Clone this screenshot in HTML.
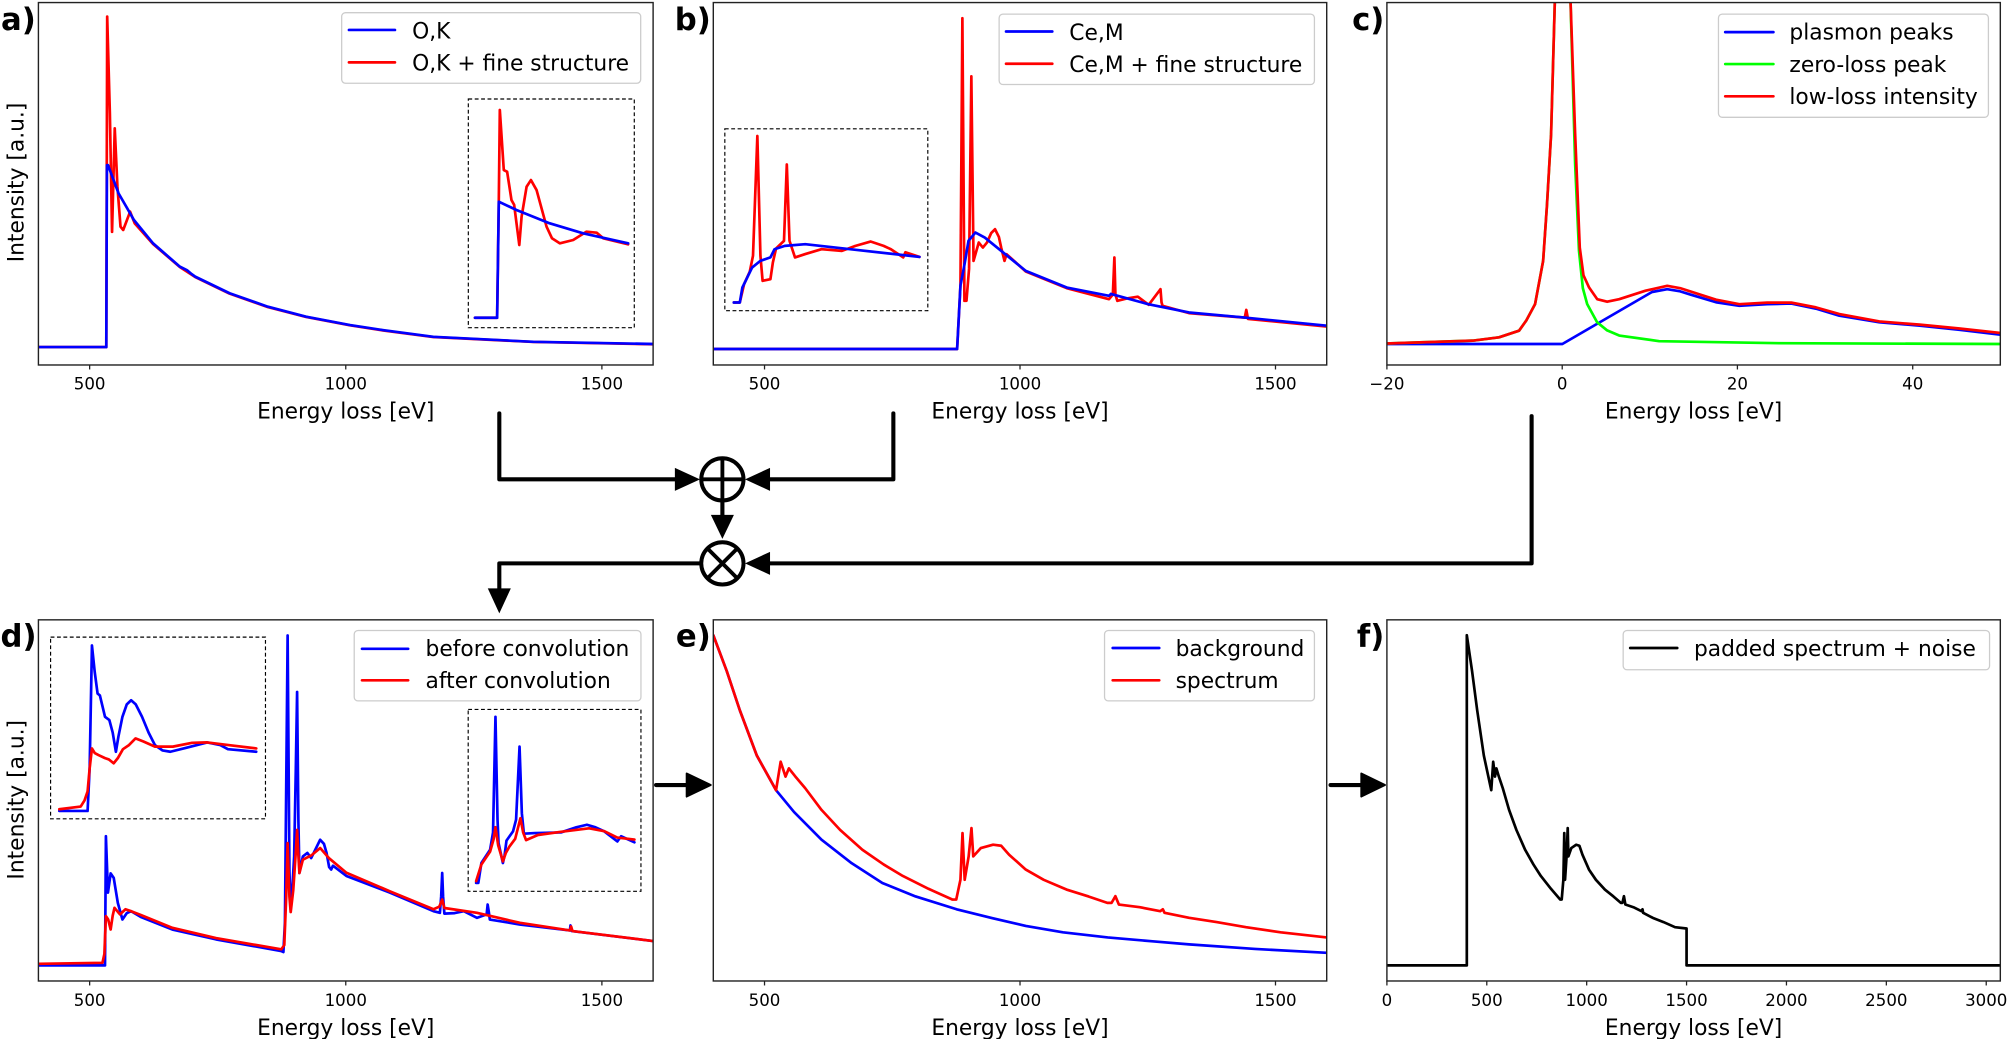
<!DOCTYPE html>
<html><head><meta charset="utf-8"><style>
html,body{margin:0;padding:0;background:#fff;}
svg{display:block;}
text{font-family:"DejaVu Sans","Liberation Sans",sans-serif;fill:#000;}
.tk{font-size:13px;text-anchor:middle;}
.xl{font-size:17px;text-anchor:middle;}
.lg{font-size:17px;}
.pl{font-size:24px;font-weight:bold;text-anchor:end;}
.ax{fill:none;stroke:#222;stroke-width:1.1;}
.c{fill:none;stroke-width:2.1;stroke-linejoin:round;stroke-linecap:round;}
.b{stroke:#0000ff;}.r{stroke:#ff0000;}.g{stroke:#00ff00;}.k{stroke:#000;}
.lgb{fill:#fff;fill-opacity:0.8;stroke:#ccc;stroke-width:1;}
.ins{fill:none;stroke:#000;stroke-width:0.9;stroke-dasharray:3,2;}
.fl{fill:none;stroke:#000;stroke-width:3.2;stroke-linecap:round;stroke-linejoin:round;}
.tick{stroke:#222;stroke-width:1;}
</style></head><body>
<svg width="2008" height="1039" viewBox="0 0 1568 811.3" preserveAspectRatio="none" xmlns="http://www.w3.org/2000/svg">
<defs>
<clipPath id="ca"><rect x="30" y="2" width="480" height="283"/></clipPath>
<clipPath id="cb"><rect x="557" y="2" width="479" height="283"/></clipPath>
<clipPath id="cc"><rect x="1083" y="2" width="479" height="283"/></clipPath>
<clipPath id="cd"><rect x="30" y="484" width="480" height="282"/></clipPath>
<clipPath id="ce"><rect x="557" y="484" width="479" height="282"/></clipPath>
<clipPath id="cf"><rect x="1083" y="484" width="479" height="282"/></clipPath>
</defs>
<rect width="1568" height="811.3" fill="#fff"/>

<!-- ===== Panel a ===== -->
<g clip-path="url(#ca)">
<polyline class="c r" points="30,271 83,271 83.4,120 83.7,13 85.8,88.5 87.5,181 89.6,100.2 91.7,145.8 94.1,177 96.2,179.6 101.6,165.3 105.2,174.4 119.5,190.5 140.4,208.5 152.4,216.3 179.3,229.3 209.2,239.8 239,247.5 273.3,254 298.8,258 338.4,263.2 416.5,267 510,268.8"/>
<polyline class="c b" points="30,271 83,271 83.5,129 84.3,128.9 92.6,151 104.6,171.8 119.5,190 140.4,208.2 146,211 149,213.5 152.4,216 179.3,229 209.2,239.5 239,247.3 273.3,253.8 298.8,257.7 338.4,263 416.5,266.9 510,268.6"/>
</g>
<rect class="ins" x="365.7" y="77.3" width="129.6" height="178.6"/>
<polyline class="c r" points="370.9,248.1 388.2,248.1 389.5,157 390.3,85.9 393.4,132.8 396,134.1 399.4,156.2 401.5,160 405.5,191.3 407.3,169.2 411.2,145.8 414.6,140.6 419,148.4 426.8,177 431,186 437.2,190 447.6,187.4 458,180.9 465.9,181.7 471.1,186.1 490.5,190.8"/>
<polyline class="c b" points="370.9,248.1 388.2,248.1 389.5,157.5 403.3,164 429.3,174.4 455.3,182.2 490.5,190"/>
<rect class="ax" x="30" y="2" width="480" height="283"/>
<rect class="lgb" x="266.8" y="9.9" width="233.5" height="55.1" rx="3"/>
<line class="c b" x1="272.5" y1="23.4" x2="308.4" y2="23.4"/>
<line class="c r" x1="272.5" y1="48.7" x2="308.4" y2="48.7"/>
<text class="lg" x="321.8" y="29.9">O,K</text>
<text class="lg" x="321.8" y="55.2">O,K + fine structure</text>
<g class="tick"><line x1="70" y1="285" x2="70" y2="288.5"/><line x1="270" y1="285" x2="270" y2="288.5"/><line x1="470" y1="285" x2="470" y2="288.5"/></g>
<text class="tk" x="70" y="304">500</text><text class="tk" x="270" y="304">1000</text><text class="tk" x="470" y="304">1500</text>
<text class="xl" x="270" y="326.7">Energy loss [eV]</text>
<text class="xl" transform="translate(18.5,142.5) rotate(-90)">Intensity [a.u.]</text>
<text class="pl" x="28" y="23.5">a)</text>

<!-- ===== Panel b ===== -->
<g clip-path="url(#cb)">
<polyline class="c r" points="557,272.5 747.4,272.5 750,222.9 751.5,14.2 753.1,234.9 754.7,234.9 756.7,210 758.5,59.6 760.2,203.7 764.3,189.4 767.5,193.3 770.7,189.4 774,182 777,179 780,185 781.8,193.3 784.4,203.7 786,198.5 801,212 833,225 866,233.6 869,230 870.2,201 871,230 872.5,234.9 880,233 888.5,231.7 897,238 906.2,225.8 907,236 907.8,238.8 928.5,244.5 972,248 973.2,242 974.5,249 1036,255"/>
<polyline class="c b" points="557,272.5 747.4,272.5 750,222.9 753,207.3 756.3,188 761.7,181.6 769,185.5 785,198.5 801,211.5 833,224.5 866,231 867.5,229.5 896.6,237.5 928.5,244 970,247.8 1036,254.3"/>
</g>
<rect class="ins" x="566" y="100.6" width="158.5" height="142"/>
<polyline class="c r" points="573,236.2 577.7,236.2 581,222 585.5,212 588,199.7 591.4,106.2 593.8,199.7 595.5,219.3 601.6,218 603.5,205 606,194 612.2,188.1 614.4,128.4 616.5,188 620.8,201 628.8,198.4 641.5,194.6 657.4,195.9 668,192 679.8,188.6 690,192 695.7,194.6 705.3,201 707,197 718,200.6"/>
<polyline class="c b" points="573,236.2 577.7,236.2 579.7,224.5 587.3,208.9 593.7,203.7 601.6,201 604.8,194.6 612.8,192 628.8,190.7 663.8,194.6 718,200.6"/>
<rect class="ax" x="557" y="2" width="479" height="283"/>
<rect class="lgb" x="780.2" y="11" width="246.2" height="55" rx="3"/>
<line class="c b" x1="785.6" y1="24.6" x2="821.7" y2="24.6"/>
<line class="c r" x1="785.6" y1="49.8" x2="821.7" y2="49.8"/>
<text class="lg" x="835" y="31.1">Ce,M</text>
<text class="lg" x="835" y="56.3">Ce,M + fine structure</text>
<g class="tick"><line x1="597" y1="285" x2="597" y2="288.5"/><line x1="796.5" y1="285" x2="796.5" y2="288.5"/><line x1="996" y1="285" x2="996" y2="288.5"/></g>
<text class="tk" x="597" y="304">500</text><text class="tk" x="796.5" y="304">1000</text><text class="tk" x="996" y="304">1500</text>
<text class="xl" x="796.5" y="326.7">Energy loss [eV]</text>
<text class="pl" x="555" y="23.5">b)</text>

<!-- ===== Panel c ===== -->
<g clip-path="url(#cc)">
<polyline class="c b" points="1083,268.6 1220,268.6 1290,228 1301.9,225.8 1312,227.5 1320,230 1340,236 1358.2,238.8 1380,237.5 1398.8,237 1418,241 1436.3,246.5 1467.6,251.7 1499,254.3 1530,257.5 1562,261.3"/>
<polyline class="c g" points="1083,268.2 1150,266 1170.6,263.4 1186.2,258.2 1192,250 1198.7,237.5 1205,203.7 1208,160 1211.2,105 1214.3,-5 1226.2,-5 1230,128.4 1233,195.9 1236,225 1239.4,237.5 1247.2,251.7 1255,258 1264.4,262 1295.6,266.4 1389.5,268 1562,268.6"/>
<polyline class="c r" points="1083,268.2 1150,266 1170.6,263.4 1186.2,258.2 1192,250 1198.7,237.5 1205,203.7 1208,160 1211.2,105 1214.3,-5 1226.2,-5 1230,105 1233.6,193.3 1236.5,215 1240.9,224.5 1247.2,233.6 1255,235.6 1264.4,233.6 1285,227 1301.9,223.2 1312,225 1340,234 1358.2,237.5 1380,236.3 1398.8,236.3 1418,240 1436.3,245.2 1467.6,251 1499,253.5 1530,256.5 1562,260"/>
</g>
<rect class="ax" x="1083" y="2" width="479" height="283"/>
<rect class="lgb" x="1341.9" y="11" width="210.8" height="80.6" rx="3"/>
<line class="c b" x1="1347.2" y1="25.1" x2="1384.8" y2="25.1"/>
<line class="c g" x1="1347.2" y1="50" x2="1384.8" y2="50"/>
<line class="c r" x1="1347.2" y1="75.2" x2="1384.8" y2="75.2"/>
<text class="lg" x="1397.3" y="31">plasmon peaks</text>
<text class="lg" x="1397.3" y="56.2">zero-loss peak</text>
<text class="lg" x="1397.3" y="81.2">low-loss intensity</text>
<g class="tick"><line x1="1083" y1="285" x2="1083" y2="288.5"/><line x1="1219.9" y1="285" x2="1219.9" y2="288.5"/><line x1="1356.7" y1="285" x2="1356.7" y2="288.5"/><line x1="1493.6" y1="285" x2="1493.6" y2="288.5"/></g>
<text class="tk" x="1083" y="304">−20</text><text class="tk" x="1219.9" y="304">0</text><text class="tk" x="1356.7" y="304">20</text><text class="tk" x="1493.6" y="304">40</text>
<text class="xl" x="1322.5" y="326.7">Energy loss [eV]</text>
<text class="pl" x="1081" y="23.5">c)</text>

<!-- ===== Panel d ===== -->
<g clip-path="url(#cd)">
<polyline class="c b" points="30,753.8 82,753.8 82.7,653 84.3,697 86.4,682 88.8,685.5 92,705 95.6,718 99,713 102.4,711.5 110,716 134.6,725.8 168.6,733.5 219.6,742.6 221.3,743.4 222.5,720 224.6,496.2 226,680 227,710 228.5,690 229.7,668.7 231,600 232,540.3 233,640 233.8,681.7 236.5,668.7 240,666 243,670 250,655.7 253,659 255,666 257,677 258.6,679 260,676 270.5,684 304.5,697 338.5,711.5 343.5,712.8 344.5,700 345.3,681.7 346,700 347,713.4 355,713 362.2,711.5 372.4,716.7 380,714 380.8,706.3 381.7,712 382.5,718 406,721.9 445,726.5 445.5,722.6 446.5,727 510,734.8"/>
<polyline class="c r" points="30,752.6 80,751.8 81.5,745 82.7,715.4 84.5,718 86.4,725.8 88,715 89.4,708.9 93.7,714 98,710 102.4,711.5 110,714.5 134.6,724.5 168.6,732.5 219.6,741.3 222,738 223.5,700 224.6,658.3 226,700 227,712.2 229,695 231,665 232,648 233,668 233.8,681.7 236.5,671.3 243,668 250,662.2 256.8,670 270.5,681.5 304.5,696 338.5,710 343,708 345.3,702.4 347,709 372.4,712.8 406,720.6 445,726.5 446,723.5 447,727 510,734.8"/>
</g>
<rect class="ins" x="39.5" y="497.5" width="167.8" height="141.9"/>
<polyline class="c b" points="46.3,633.2 68.4,633.2 70,600 71.8,504 74,525 76.2,541.6 78,543 82,559.7 85.4,562.3 88,572 90.5,587 92.5,575 95.6,559.7 99,550 102.4,546.8 106,550 110.9,559.7 116,572 121,581.8 127,586 133,587 145,584 161.8,579.7 172,581.8 178,585 200.1,587"/>
<polyline class="c r" points="46.3,631.9 63,629.8 66,625 68.4,618 70,600 71.8,584.4 74,588 76.9,589.6 82,592 85,593 88.8,596 92,592 96,585 100.7,581.8 105.8,576.6 112,579 121,583 135,583 150,580 161.8,579.7 180,582 200.1,584.4"/>
<rect class="ins" x="365.6" y="554" width="134.9" height="142"/>
<polyline class="c b" points="371.8,689.4 373.5,689.4 375.9,673.9 382.7,663.5 385,650 386.9,559.7 388.5,640 389.3,658.3 392.7,673.9 394,668 395.5,656.4 400.6,649.2 403,640 405.7,583 407.5,635 409.1,651 417.6,650.5 438,650 450,646 458.3,644 465,646 471.9,649.2 482.1,657 485,653 495.4,657.7"/>
<polyline class="c r" points="371.8,688 375.9,675 382.7,665 385.5,655 386.9,645.9 389,660 392.7,672.6 395,666 397.8,661 402.3,655 406.4,638.9 408.5,650 410.8,656 420,652 438,649.5 460,646.8 471.9,649 482,654 495.4,655.6"/>
<rect class="ax" x="30" y="484" width="480" height="282"/>
<rect class="lgb" x="276.6" y="492.3" width="223.9" height="55" rx="3"/>
<line class="c b" x1="282.7" y1="506.6" x2="318.7" y2="506.6"/>
<line class="c r" x1="282.7" y1="531.2" x2="318.7" y2="531.2"/>
<text class="lg" x="332.3" y="512.3">before convolution</text>
<text class="lg" x="332.3" y="537.2">after convolution</text>
<g class="tick"><line x1="70" y1="766" x2="70" y2="769.5"/><line x1="270" y1="766" x2="270" y2="769.5"/><line x1="470" y1="766" x2="470" y2="769.5"/></g>
<text class="tk" x="70" y="785.5">500</text><text class="tk" x="270" y="785.5">1000</text><text class="tk" x="470" y="785.5">1500</text>
<text class="xl" x="270" y="808">Energy loss [eV]</text>
<text class="xl" transform="translate(18.5,624.5) rotate(-90)">Intensity [a.u.]</text>
<text class="pl" x="28.5" y="505">d)</text>

<!-- ===== Panel e ===== -->
<g clip-path="url(#ce)">
<polyline class="c b" points="557,496 567.5,524 577.7,554.6 591,590 606,617 620,634 641.5,655.7 665,674 689,689.5 715,700 747,710 775,717 801,723 830,728 865,732 900,735 928.5,737.4 980,741 1036,744"/>
<polyline id="ered" class="c r" points="557,496 567.5,524 577.7,554.6 591,590 606,617 609.6,594.8 613.4,606.4 616,600 620.8,606 628.8,615.5 641.5,632.4 656,648 673.4,663.5 690,675 705,684 725,694 743.6,702.4 746.7,702.4 750,686.9 751.6,650.5 753.3,687 756.4,668.7 758.6,646.6 760,668.7 765.9,662.2 775.5,659.6 781.8,660.4 788,667.4 801,679 815,687 832.8,694.6 850,700 864.7,705 868,705 871,699.8 873.7,706.3 890,708.4 906,711.5 908,710 909.4,712.8 928.5,716.7 950,720 973,724 1000,728 1036,732"/>
</g>
<rect class="ax" x="557" y="484" width="479" height="282"/>
<rect class="lgb" x="862.5" y="492.3" width="163.9" height="55" rx="3"/>
<line class="c b" x1="868.9" y1="506" x2="905.2" y2="506"/>
<line class="c r" x1="868.9" y1="531.2" x2="905.2" y2="531.2"/>
<text class="lg" x="918" y="512.3">background</text>
<text class="lg" x="918" y="537.2">spectrum</text>
<g class="tick"><line x1="597" y1="766" x2="597" y2="769.5"/><line x1="796.5" y1="766" x2="796.5" y2="769.5"/><line x1="996" y1="766" x2="996" y2="769.5"/></g>
<text class="tk" x="597" y="785.5">500</text><text class="tk" x="796.5" y="785.5">1000</text><text class="tk" x="996" y="785.5">1500</text>
<text class="xl" x="796.5" y="808">Energy loss [eV]</text>
<text class="pl" x="555" y="505">e)</text>

<!-- ===== Panel f ===== -->
<g clip-path="url(#cf)">
<polyline id="fcurve" class="c k" points="1083,753.8 1145.4,753.8 1145.4,496"/>
</g>
<rect class="ax" x="1083" y="484" width="479" height="282"/>
<rect class="lgb" x="1267.5" y="492.3" width="286.1" height="30.7" rx="3"/>
<line class="c k" x1="1273" y1="506" x2="1309.7" y2="506"/>
<text class="lg" x="1322.8" y="512.3">padded spectrum + noise</text>
<g class="tick">
<line x1="1083" y1="766" x2="1083" y2="769.5"/><line x1="1161" y1="766" x2="1161" y2="769.5"/><line x1="1239" y1="766" x2="1239" y2="769.5"/><line x1="1317" y1="766" x2="1317" y2="769.5"/><line x1="1395" y1="766" x2="1395" y2="769.5"/><line x1="1473" y1="766" x2="1473" y2="769.5"/><line x1="1551" y1="766" x2="1551" y2="769.5"/></g>
<text class="tk" x="1083" y="785.5">0</text><text class="tk" x="1161" y="785.5">500</text><text class="tk" x="1239" y="785.5">1000</text><text class="tk" x="1317" y="785.5">1500</text><text class="tk" x="1395" y="785.5">2000</text><text class="tk" x="1473" y="785.5">2500</text><text class="tk" x="1551" y="785.5">3000</text>
<text class="xl" x="1322.5" y="808">Energy loss [eV]</text>
<text class="pl" x="1081" y="505">f)</text>

<!-- ===== Flow diagram ===== -->
<polyline class="fl" points="389.9,322.8 389.9,374.3 530,374.3"/>
<polygon points="527,365.3 546.6,374.3 527,383.3" fill="#000"/>
<polyline class="fl" points="697.6,322.8 697.6,374.3 598,374.3"/>
<polygon points="601.3,365.3 581.8,374.3 601.3,383.3" fill="#000"/>
<circle cx="564.1" cy="374.3" r="16.5" fill="#fff" stroke="#000" stroke-width="3.1"/>
<line x1="547.6" y1="374.3" x2="580.6" y2="374.3" stroke="#000" stroke-width="3"/>
<line x1="564.1" y1="357.8" x2="564.1" y2="390.8" stroke="#000" stroke-width="3"/>
<line class="fl" x1="564.1" y1="391" x2="564.1" y2="405"/>
<polygon points="555.1,402 573.1,402 564.1,420.8" fill="#000"/>
<polyline class="fl" points="1196,325 1196,439.9 598,439.9"/>
<polygon points="601.3,430.9 581.8,439.9 601.3,448.9" fill="#000"/>
<polyline class="fl" points="547,439.9 389.9,439.9 389.9,462"/>
<polygon points="380.9,459.4 398.9,459.4 389.9,479" fill="#000"/>
<circle cx="564.1" cy="439.9" r="16.5" fill="#fff" stroke="#000" stroke-width="3.1"/>
<line x1="552.4" y1="428.2" x2="575.8" y2="451.6" stroke="#000" stroke-width="3"/>
<line x1="575.8" y1="428.2" x2="552.4" y2="451.6" stroke="#000" stroke-width="3"/>
<line class="fl" x1="512.3" y1="613" x2="538" y2="613"/>
<polygon points="536.2,604 555,613 536.2,622" fill="#000" stroke="#000" stroke-width="1.5" stroke-linejoin="round"/>
<line class="fl" x1="1039" y1="613" x2="1065" y2="613"/>
<polygon points="1063,604 1081.5,613 1063,622" fill="#000" stroke="#000" stroke-width="1.5" stroke-linejoin="round"/>
</svg>
<script>
(function(){
  var src=document.getElementById('ered').getAttribute('points').trim().split(/\s+/);
  var out=["1083,753.8","1145.4,753.8"];
  for(var i=0;i<src.length;i++){
    var p=src[i].split(',');var x=+p[0],y=+p[1];
    var E=400+(x-557)/0.39917;
    if(E>1500)break;
    out.push((1083+E*0.156).toFixed(1)+','+y.toFixed(1));
  }
  out.push((1083+1500*0.156).toFixed(1)+',725');
  out.push((1083+1500*0.156).toFixed(1)+',753.8');
  out.push('1562,753.8');
  document.getElementById('fcurve').setAttribute('points',out.join(' '));
})();
</script>
</body></html>
